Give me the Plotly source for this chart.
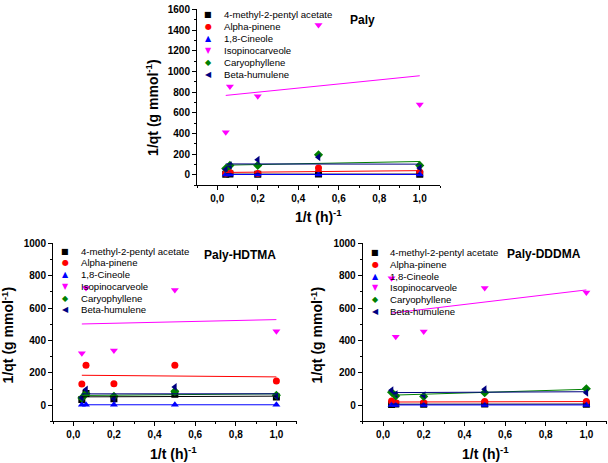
import numpy as np
import plotly.graph_objects as go

W, H = 608, 463

# ---------------- data ----------------
x_vals = [0.042, 0.0625, 0.2, 0.5, 1.0]
series_names = ["4-methyl-2-pentyl acetate", "Alpha-pinene", "1,8-Cineole",
                "Isopinocarveole", "Caryophyllene", "Beta-humulene"]
panel_titles = ["Paly", "Paly-HDTMA", "Paly-DDDMA"]

paly_acetate = [4, 6, 5, 8, 5]
paly_alpha = [15, 22, 12, 65, 25]
paly_cineole = [2, 2, 2, 3, 2]
paly_isopino = [410, 855, 760, 1450, 680]
paly_caryo = [60, 90, 90, 192, 90]
paly_humulene = [50, 90, 144, 170, 64]

hdtma_acetate = [35, 72, 41, 68, 51]
hdtma_alpha = [131, 248, 133, 248, 150]
hdtma_cineole = [3, 3, 3, 3, 3]
hdtma_isopino = [322, 725, 339, 712, 458]
hdtma_caryo = [45, 72, 55, 86, 62]
hdtma_humulene = [47, 97, 41, 113, 55]

dddma_acetate = [5, 8, 6, 8, 7]
dddma_alpha = [27, 16, 16, 23, 23]
dddma_cineole = [2, 2, 2, 2, 2]
dddma_isopino = [784, 423, 456, 724, 697]
dddma_caryo = [80, 58, 54, 78, 102]
dddma_humulene = [93, 68, 62, 99, 78]

x_ticks = [0.0, 0.2, 0.4, 0.6, 0.8, 1.0]

# ---------------- styles ----------------
colors = ["#000000", "#FF0000", "#0000FF", "#FF00FF", "#008000", "#000080"]
symbols = ["square", "circle", "triangle-up", "triangle-down", "diamond", "triangle-left"]
glyphs = ["\u25A0", "\u25CF", "\u25B2", "\u25BC", "\u25C6", "\u25C0"]

panels = [
    [paly_acetate, paly_alpha, paly_cineole, paly_isopino, paly_caryo, paly_humulene],
    [hdtma_acetate, hdtma_alpha, hdtma_cineole, hdtma_isopino, hdtma_caryo, hdtma_humulene],
    [dddma_acetate, dddma_alpha, dddma_cineole, dddma_isopino, dddma_caryo, dddma_humulene],
]

def px(x):
    return x / W

def py(y):
    return 1 - y / H

# pixel boxes: (left, right, top, bottom)
boxes = [(197, 440, 4.5, 182), (53, 296.7, 241, 421), (362.7, 606.7, 241, 421)]
yranges = [[-100, 1600], [-100, 1000], [-100, 1000]]
ymaxes = [1600, 1000, 1000]

fig = go.Figure()
axis_ids = ["", "2", "3"]

for p, (data, aid) in enumerate(zip(panels, axis_ids)):
    xa = "x" + aid
    ya = "y" + aid
    for i, yv in enumerate(data):
        fig.add_trace(go.Scatter(
            x=x_vals, y=yv, mode="markers", xaxis=xa, yaxis=ya,
            marker=dict(symbol=symbols[i], size=7, color=colors[i]),
            showlegend=False, hoverinfo="x+y", name=series_names[i]))
    for i, yv in enumerate(data):
        slope, intercept = np.polyfit(x_vals, yv, 1)
        xs = [min(x_vals), max(x_vals)]
        fig.add_trace(go.Scatter(
            x=xs, y=[slope * v + intercept for v in xs], mode="lines",
            xaxis=xa, yaxis=ya, line=dict(color=colors[i], width=1),
            showlegend=False, hoverinfo="skip"))

tickfont = dict(family="Liberation Sans", size=10, color="black", weight="bold")

layout = dict(
    width=W, height=H, margin=dict(l=0, r=0, t=0, b=0),
    plot_bgcolor="white", paper_bgcolor="white",
    separators=",.", showlegend=False,
)

for p, aid in enumerate(axis_ids):
    l, r, t, b = boxes[p]
    xkey = "xaxis" + aid
    ykey = "yaxis" + aid
    layout[xkey] = dict(
        domain=[px(l), px(r)], anchor="y" + aid, range=[-0.1, 1.1],
        tickmode="array", tickvals=x_ticks, tickformat=".1f",
        showgrid=False, zeroline=False, showline=True, linecolor="black", linewidth=1,
        ticks="outside", ticklen=4, tickwidth=1, tickcolor="black", tickfont=tickfont,
        minor=dict(ticks="outside", ticklen=2, dtick=0.1, tick0=0, tickcolor="black", showgrid=False),
    )
    layout[ykey] = dict(
        domain=[py(b), py(t)], anchor="x" + aid, range=yranges[p],
        tickmode="array", tickvals=list(range(0, ymaxes[p] + 1, 200)),
        showgrid=False, zeroline=False, showline=True, linecolor="black", linewidth=1,
        ticks="outside", ticklen=4, tickwidth=1, tickcolor="black", tickfont=tickfont,
        minor=dict(ticks="outside", ticklen=2, dtick=100, tick0=0, tickcolor="black", showgrid=False),
    )

fig.update_layout(**layout)

annotations = []
title_font = dict(family="Liberation Sans", size=14, color="black")

# axis titles
ytitle_pos = [(152, 104), (8, 334), (317, 334)]
xtitle_pos = [(318, 213), (174, 453), (485, 453)]
for p in range(3):
    annotations.append(dict(
        text="<b>1/qt (g mmol<sup>-1</sup>)</b>", xref="paper", yref="paper",
        x=px(ytitle_pos[p][0]), y=py(ytitle_pos[p][1]), xanchor="center", yanchor="middle",
        textangle=-90, showarrow=False, font=title_font))
    annotations.append(dict(
        text="<b>1/t (h)<sup>-1</sup></b>", xref="paper", yref="paper",
        x=px(xtitle_pos[p][0]), y=py(xtitle_pos[p][1]), xanchor="center", yanchor="middle",
        showarrow=False, font=title_font))

# panel titles
ptitle_pos = [(362, 15), (240, 253), (544, 252)]
for p in range(3):
    annotations.append(dict(
        text="<b>" + panel_titles[p] + "</b>", xref="paper", yref="paper",
        x=px(ptitle_pos[p][0]), y=py(ptitle_pos[p][1]), xanchor="center", yanchor="middle",
        showarrow=False, font=dict(family="Liberation Sans", size=12, color="black")))

# legends (symbol x, text x, first row y, row step)
legend_pos = [(208, 222, 10, 12), (65, 79, 249, 11.8), (375, 388, 250, 12)]
for p in range(3):
    sx, tx, y0, dy = legend_pos[p]
    for i in range(6):
        yy = y0 + i * dy
        annotations.append(dict(
            text=glyphs[i], xref="paper", yref="paper", x=px(sx), y=py(yy),
            xanchor="center", yanchor="middle", showarrow=False,
            font=dict(family="DejaVu Sans", size=8, color=colors[i])))
        annotations.append(dict(
            text=series_names[i], xref="paper", yref="paper", x=px(tx), y=py(yy),
            xanchor="left", yanchor="middle", showarrow=False,
            font=dict(family="Liberation Sans", size=9.6, color="black")))

fig.update_layout(annotations=annotations)
fig.write_html("out.html", config={"displayModeBar": False},
               post_script="document.body.style.margin='0';document.body.style.overflow='hidden';")
